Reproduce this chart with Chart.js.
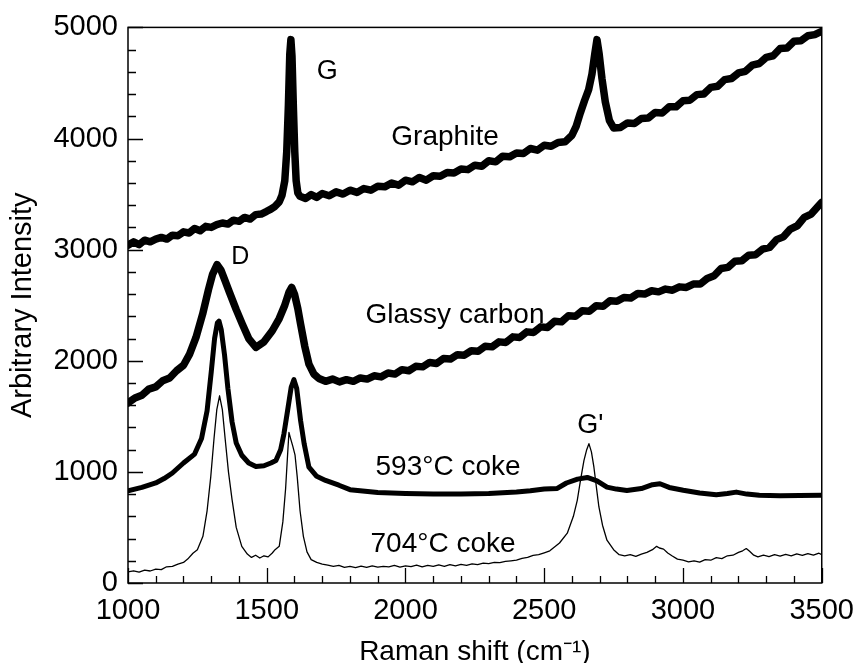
<!DOCTYPE html>
<html>
<head>
<meta charset="utf-8">
<script src="https://cdn.jsdelivr.net/npm/chart.js@4.4.1/dist/chart.umd.min.js"></script>
<style>
  html, body { margin: 0; padding: 0; background: #fff; }
  #wrap { width: 865px; height: 663px; }
</style>
</head>
<body>
<div id="wrap"><canvas id="c" width="865" height="663"></canvas></div>
<script>
// ---- Data (Raman shift in cm^-1, arbitrary intensity) ----
const graphiteX = [1000,1020,1040,1060,1080,1100,1120,1140,1160,1180,1200,1220,1240,1260,1280,1300,1320,1340,1360,1380,1400,1420,1440,1460,1480,1500,1515,1530,1545,1555,1565,1572,1578,1583,1587,1591,1596,1601,1606,1612,1620,1640,1660,1680,1700,1725,1750,1775,1800,1825,1850,1875,1900,1925,1950,1975,2000,2025,2050,2075,2100,2125,2150,2175,2200,2225,2250,2275,2300,2325,2350,2375,2400,2425,2450,2475,2500,2525,2550,2575,2600,2615,2630,2645,2660,2672,2682,2690,2698,2708,2720,2735,2750,2775,2800,2825,2850,2875,2900,2925,2950,2975,3000,3025,3050,3075,3100,3125,3150,3175,3200,3225,3250,3275,3300,3325,3350,3375,3400,3425,3450,3475,3500];
const graphiteY = [3040,3070,3045,3085,3070,3095,3110,3095,3130,3125,3160,3150,3190,3170,3210,3200,3225,3240,3230,3265,3255,3290,3275,3315,3320,3345,3365,3390,3430,3490,3620,3880,4300,4760,4890,4740,4280,3880,3620,3510,3480,3460,3495,3470,3505,3485,3520,3500,3535,3515,3550,3535,3570,3565,3600,3580,3625,3610,3650,3625,3665,3660,3695,3690,3725,3720,3760,3750,3800,3790,3840,3835,3870,3865,3910,3895,3940,3930,3965,3970,4030,4110,4230,4340,4440,4580,4760,4890,4760,4540,4330,4160,4095,4100,4140,4135,4180,4185,4235,4230,4285,4285,4340,4345,4395,4400,4460,4470,4530,4540,4590,4605,4660,4675,4730,4745,4810,4815,4875,4880,4925,4935,4965];

const glassyX = [1000,1025,1050,1075,1100,1125,1150,1175,1200,1222,1245,1269,1290,1305,1321,1335,1350,1365,1390,1412,1435,1461,1490,1520,1545,1565,1580,1590,1600,1612,1622,1637,1652,1670,1688,1712,1737,1762,1787,1812,1837,1862,1887,1912,1937,1962,1987,2012,2037,2062,2087,2112,2137,2162,2187,2212,2237,2262,2287,2312,2337,2362,2387,2412,2437,2462,2487,2512,2537,2562,2587,2612,2637,2662,2687,2712,2737,2762,2787,2812,2837,2862,2887,2912,2937,2962,2987,3012,3037,3062,3087,3112,3137,3162,3187,3212,3237,3262,3287,3312,3337,3362,3387,3412,3437,3462,3487,3500];
const glassyY = [1620,1665,1690,1745,1765,1820,1845,1910,1960,2060,2210,2420,2640,2780,2865,2815,2720,2620,2460,2330,2200,2120,2170,2270,2380,2500,2615,2660,2600,2470,2330,2130,1970,1880,1840,1815,1835,1810,1830,1815,1845,1835,1865,1855,1890,1880,1920,1910,1950,1945,1985,1975,2020,2015,2055,2050,2090,2085,2130,2125,2170,2165,2215,2210,2260,2255,2305,2300,2355,2350,2405,2400,2450,2445,2495,2490,2540,2535,2570,2565,2605,2600,2630,2620,2645,2635,2665,2660,2690,2690,2740,2765,2830,2840,2895,2900,2950,2955,3005,3020,3090,3115,3185,3215,3290,3320,3390,3425];

const coke593X = [1000,1050,1100,1130,1160,1200,1240,1265,1285,1300,1312,1322,1328,1336,1348,1360,1375,1390,1410,1435,1461,1490,1515,1533,1550,1562,1575,1588,1598,1608,1622,1635,1652,1680,1712,1760,1800,1900,2000,2100,2200,2300,2400,2450,2500,2547,2580,2620,2655,2690,2726,2760,2798,2850,2890,2917,2950,3001,3060,3120,3160,3192,3230,3275,3350,3420,3500];
const coke593Y = [830,860,900,940,990,1080,1160,1300,1550,1900,2200,2340,2357,2280,2050,1750,1450,1260,1150,1080,1048,1055,1080,1102,1200,1344,1550,1760,1830,1750,1461,1250,1042,960,923,880,840,815,805,800,800,805,818,830,845,851,900,935,950,920,863,845,833,850,885,893,860,835,810,795,805,818,800,789,785,788,790];

const coke704X = [1000,1020,1040,1060,1080,1100,1120,1139,1160,1180,1200,1215,1234,1250,1270,1285,1298,1310,1320,1330,1340,1350,1362,1375,1390,1410,1430,1445,1460,1475,1490,1505,1520,1530,1545,1558,1568,1575,1580,1586,1594,1602,1610,1620,1632,1645,1660,1680,1700,1720,1740,1760,1780,1800,1820,1840,1860,1880,1900,1920,1940,1960,1980,2000,2020,2040,2060,2080,2100,2120,2140,2160,2180,2200,2220,2240,2260,2280,2300,2320,2340,2360,2380,2400,2420,2440,2460,2480,2500,2520,2555,2583,2605,2619,2631,2643,2653,2661,2670,2679,2688,2697,2710,2726,2750,2770,2790,2810,2830,2850,2870,2890,2905,2915,2930,2945,2960,2980,3000,3020,3040,3060,3080,3100,3120,3140,3160,3180,3200,3215,3228,3240,3255,3270,3290,3310,3330,3350,3370,3390,3410,3430,3450,3470,3490,3500];
const coke704Y = [100,110,98,115,108,125,120,146,150,170,185,215,268,300,420,650,950,1300,1560,1685,1560,1300,1000,750,500,330,260,230,250,225,245,235,270,300,330,550,850,1150,1356,1300,1230,1150,950,650,420,280,210,185,170,160,150,158,140,150,138,152,140,155,142,150,145,158,143,155,148,160,145,158,150,163,150,165,155,168,158,172,165,178,175,185,183,195,200,206,222,230,248,255,272,290,360,448,600,744,930,1102,1200,1254,1180,1042,860,684,520,385,300,255,245,255,240,260,275,300,330,315,305,270,245,215,205,190,200,188,210,205,228,220,245,250,275,290,310,285,250,235,250,238,255,242,258,245,262,248,265,250,268,255];

const xTickLabels = ['1000','1500','2000','2500','3000','3500'];
const yTickLabels = ['0','1000','2000','3000','4000','5000'];

const annotationTexts = ['G', 'Graphite', 'D', 'Glassy carbon', '593°C coke', '704°C coke', "G'"];
const annotationX = [1680, 1949, 1372, 1856, 1892, 1874, 2619];
const annotationY = [4534, 3943, 2867, 2339, 968, 278, 1353];

// ---- Helpers ----
const FONT = '"Liberation Sans", Arial, Helvetica, sans-serif';
function pts(xs, ys) { return xs.map((x, i) => ({ x: x, y: ys[i] })); }

const frameAndTicks = {
  id: 'frameAndTicks',
  beforeDatasetsDraw(chart) {
    const { ctx, chartArea: a, scales: { x, y } } = chart;
    ctx.save();
    ctx.strokeStyle = '#000';
    ctx.lineWidth = 1.3;
    ctx.beginPath();
    for (let v = x.min; v <= x.max; v += 100) {
      const px = Math.round(x.getPixelForValue(v)) + 0.5;
      const len = (v % 500 === 0) ? 15 : 7;
      ctx.moveTo(px, a.bottom);
      ctx.lineTo(px, a.bottom - len);
    }
    for (let v = y.min; v <= y.max; v += 200) {
      const py = Math.round(y.getPixelForValue(v)) + 0.5;
      const len = (v % 1000 === 0) ? 15 : 8;
      ctx.moveTo(a.left, py);
      ctx.lineTo(a.left + len, py);
    }
    ctx.stroke();
    ctx.lineWidth = 1.5;
    ctx.strokeRect(a.left, a.top, a.right - a.left, a.bottom - a.top);
    ctx.restore();
  },
  afterDatasetsDraw(chart) {
    const { ctx, scales: { x, y } } = chart;
    ctx.save();
    ctx.fillStyle = '#000';
    ctx.textBaseline = 'alphabetic';
    ctx.textAlign = 'left';
    annotationTexts.forEach((t, i) => {
      ctx.font = (t === 'D' ? '25px ' : (t === 'G' || t === "G'" ? '27px ' : '28px ')) + FONT;
      ctx.fillText(t, x.getPixelForValue(annotationX[i]), y.getPixelForValue(annotationY[i]));
    });
    ctx.restore();
  }
};

const ds = (label, xs, ys, w) => ({
  label: label,
  data: pts(xs, ys),
  borderColor: '#000',
  backgroundColor: '#000',
  borderWidth: w,
  pointRadius: 0,
  tension: 0,
  borderJoinStyle: 'round',
  borderCapStyle: 'round',
  fill: false
});

new Chart(document.getElementById('c'), {
  type: 'line',
  data: {
    datasets: [
      ds('Graphite', graphiteX, graphiteY, 7.5),
      ds('Glassy carbon', glassyX, glassyY, 7.5),
      ds('593°C coke', coke593X, coke593Y, 5),
      ds('704°C coke', coke704X, coke704Y, 1.3)
    ]
  },
  options: {
    responsive: false,
    devicePixelRatio: 1,
    animation: false,
    layout: { padding: { top: 25, right: 39, bottom: 0, left: 0 } },
    plugins: { legend: { display: false }, tooltip: { enabled: false } },
    scales: {
      x: {
        type: 'linear',
        min: 1000, max: 3500,
        afterFit(s) { s.height = 80; },
        afterBuildTicks(s) { s.ticks = xTickLabels.map(v => ({ value: Number(v) })); },
        grid: { display: false, drawTicks: false },
        border: { display: false },
        ticks: {
          color: '#000', padding: 11, maxRotation: 0, autoSkip: false,
          font: { family: FONT, size: 29 },
          callback: (v) => String(v)
        },
        title: {
          display: true, text: 'Raman shift (cm⁻¹)', color: '#000',
          font: { family: FONT, size: 28, lineHeight: 0.75 },
          padding: { top: 0, bottom: 0 }
        }
      },
      y: {
        type: 'linear',
        min: 0, max: 5000,
        afterFit(s) { s.width = 128; },
        afterBuildTicks(s) { s.ticks = yTickLabels.map(v => ({ value: Number(v) })); },
        grid: { display: false, drawTicks: false },
        border: { display: false },
        ticks: {
          color: '#000', padding: 10, autoSkip: false,
          font: { family: FONT, size: 29 },
          callback: (v) => String(v)
        },
        title: {
          display: true, text: 'Arbitrary Intensity', color: '#000',
          font: { family: FONT, size: 29, lineHeight: 1.2 },
          padding: { top: 6, bottom: 0 }
        }
      }
    }
  },
  plugins: [frameAndTicks]
});
</script>
</body>
</html>
